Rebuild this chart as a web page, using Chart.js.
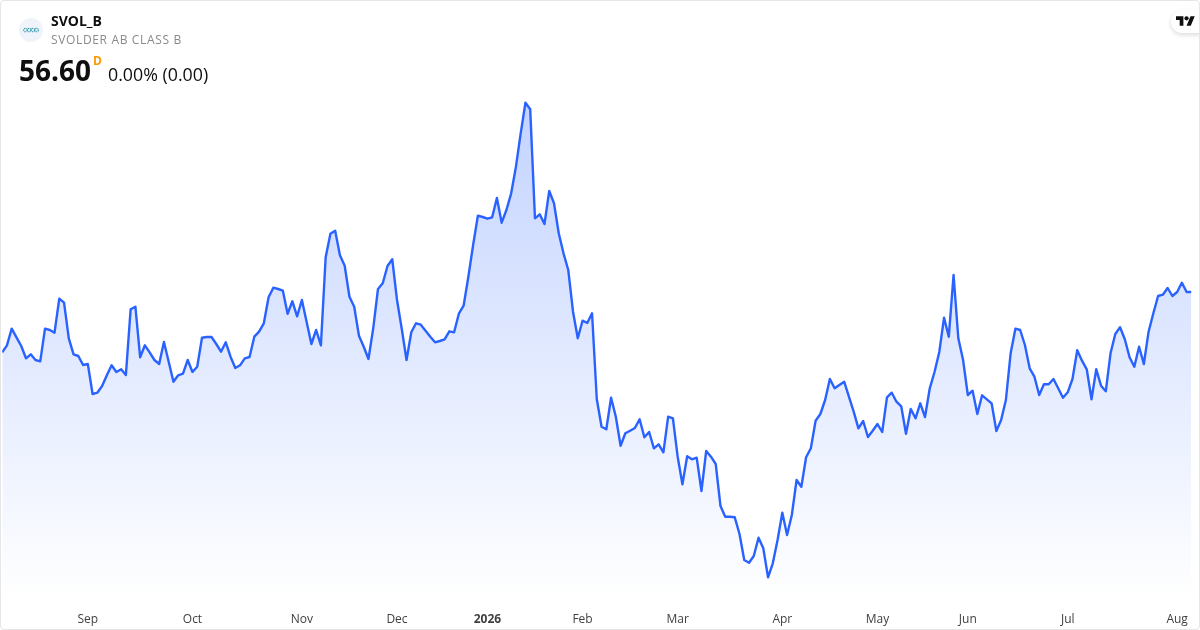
<!DOCTYPE html>
<html>
<head>
<meta charset="utf-8">
<script src="https://cdn.jsdelivr.net/npm/chart.js@4"></script>
<style>
  html, body { margin: 0; padding: 0; background: #fff; }
  #card { position: relative; width: 1200px; height: 630px; box-sizing: border-box; overflow: hidden;
    font-family: "Open Sans", sans-serif; color: #0f0f0f; }
  #card::after { content: ""; position: absolute; inset: 0; border: 1px solid #e6e6e6; border-radius: 4px; pointer-events: none; }
  canvas { position: absolute; left: 0; top: 0; }
  .txt { position: absolute; white-space: nowrap; line-height: 1; }
  #logo { position: absolute; left: 19px; top: 18px; }
  #tv { position: absolute; left: 1171px; top: 10px; width: 40px; height: 23px; border-radius: 12px; background: #fff;
    box-shadow: 0 2px 5px rgba(0,0,0,0.14); }
  #tv svg { position: absolute; left: 5px; top: 4px; }
</style>
</head>
<body>
<div id="card">
  <canvas id="chart" width="1200" height="630"></canvas>
  <svg id="logo" width="24" height="24" viewBox="0 0 24 24">
    <circle cx="12" cy="12" r="12" fill="#f0f3fa"/>
    <g fill="none" stroke="#2a9aa8" stroke-width="1.1" stroke-dasharray="1.4 0.7">
      <circle cx="6.5" cy="12" r="1.8"/><circle cx="10.2" cy="12" r="1.8"/><circle cx="13.9" cy="12" r="1.8"/><circle cx="17.6" cy="12" r="1.8"/>
    </g>
  </svg>
  <div class="txt" style="left:51px;top:14px;font-size:14px;font-weight:700">SVOL_B</div>
  <div class="txt" style="left:51px;top:34px;font-size:12px;color:#8a8a8a;letter-spacing:0.65px">SVOLDER AB CLASS B</div>
  <div class="txt" style="left:19px;top:56px;font-size:28px;font-weight:700">56.60</div>
  <div class="txt" style="left:93px;top:55px;font-size:12px;font-weight:700;color:#ff9800">D</div>
  <div class="txt" style="left:108px;top:66px;font-size:17.8px">0.00% (0.00)</div>
  <div id="tv">
    <svg width="19" height="15" viewBox="0 0 36 28"><path fill="#0f0f0f" d="M14 22H7V11H0V4h14v18zM28 22h-8l7.5-18h8L28 22z"/><circle fill="#0f0f0f" cx="20" cy="8" r="4"/></svg>
  </div>
</div>
<script>
// daily closes
const prices = [
  50.57, 51.27, 52.93, 52.07, 51.2, 49.97, 50.37, 49.8, 49.67, 52.93,
  52.8, 52.53, 55.93, 55.53, 51.97, 50.37, 50.2, 49.3, 49.4, 46.4,
  46.53, 47.2, 48.27, 49.27, 48.6, 48.87, 48.3, 54.87, 55.13, 50.07,
  51.27, 50.57, 49.8, 49.4, 51.6, 49.63, 47.63, 48.27, 48.43, 49.8,
  48.6, 49.13, 52.03, 52.1, 52.1, 51.4, 50.63, 51.57, 50.13, 49.0,
  49.27, 49.97, 50.1, 52.13, 52.63, 53.47, 56.07, 57.03, 56.9, 56.73,
  54.43, 55.67, 54.17, 55.8, 53.6, 51.4, 52.8, 51.27, 60.07, 62.43,
  62.73, 60.27, 59.23, 56.13, 55.13, 52.23, 51.13, 49.9, 52.97, 56.9,
  57.47, 59.2, 59.87, 55.8, 52.9, 49.8, 52.57, 53.47, 53.33, 52.73,
  52.13, 51.57, 51.7, 51.87, 52.67, 52.57, 54.43, 55.23, 58.13, 61.3,
  64.23, 64.1, 63.93, 64.07, 66.0, 63.53, 64.8, 66.47, 69.13, 72.47,
  75.53, 74.87, 63.97, 64.37, 63.4, 66.7, 65.47, 62.47, 60.47, 58.8,
  54.63, 51.97, 53.73, 53.5, 54.47, 45.87, 43.13, 42.87, 46.03, 44.13,
  41.23, 42.47, 42.73, 43.0, 43.87, 42.07, 42.6, 40.97, 41.37, 40.57,
  44.13, 43.97, 40.13, 37.37, 40.17, 39.87, 40.03, 36.7, 40.7, 40.13,
  39.4, 35.2, 34.13, 34.13, 34.07, 32.4, 29.8, 29.53, 30.2, 32.03,
  30.97, 28.07, 29.47, 31.8, 34.53, 32.3, 34.3, 37.8, 37.13, 40.07,
  40.97, 43.73, 44.4, 45.8, 47.9, 46.97, 47.3, 47.63, 46.13, 44.63,
  42.97, 43.7, 42.1, 42.73, 43.4, 42.6, 46.07, 46.53, 45.63, 45.17,
  42.43, 44.9, 43.97, 45.47, 44.1, 46.97, 48.6, 50.6, 54.03, 52.13,
  58.3, 51.97, 49.8, 46.3, 46.73, 44.4, 46.27, 45.87, 45.47, 42.7,
  43.8, 45.8, 50.47, 52.93, 52.8, 51.3, 48.97, 48.13, 46.3, 47.37,
  47.37, 47.9, 46.97, 46.03, 46.57, 47.9, 50.77, 49.73, 48.87, 45.87,
  48.87, 47.23, 46.67, 50.47, 52.4, 53.07, 51.87, 50.07, 49.13, 51.13,
  49.4, 52.63, 54.47, 56.2, 56.33, 57.0, 56.2, 56.6, 57.53, 56.6, 56.6
];
const tickIndex = [18, 40, 63, 83, 102, 122, 142, 164, 184, 203, 224, 247];
const tickLabels = ['Sep', 'Oct', 'Nov', 'Dec', '2026', 'Feb', 'Mar', 'Apr', 'May', 'Jun', 'Jul', 'Aug'];

new Chart(document.getElementById('chart'), {
  type: 'line',
  data: {
    datasets: [{
      data: prices.map((p, i) => ({ x: i, y: p })),
      borderColor: '#2962ff',
      borderWidth: 2.4,
      borderJoinStyle: 'round',
      pointRadius: 0,
      tension: 0,
      fill: 'start',
      backgroundColor: (ctx) => {
        const { chart } = ctx;
        if (!chart.chartArea) return 'transparent';
        const top = chart.scales.y.getPixelForValue(Math.max(...prices));
        const g = chart.ctx.createLinearGradient(0, top, 0, chart.chartArea.bottom);
        g.addColorStop(0, 'rgba(41,98,255,0.28)');
        g.addColorStop(1, 'rgba(41,98,255,0)');
        return g;
      }
    }]
  },
  options: {
    responsive: false,
    animation: false,
    layout: { padding: { left: 2.2, right: 8.6, top: 0, bottom: 0 } },
    plugins: { legend: { display: false }, tooltip: { enabled: false } },
    scales: {
      x: {
        type: 'linear',
        min: 0,
        max: prices.length - 1,
        grid: { display: false },
        border: { display: false },
        afterBuildTicks: (scale) => { scale.ticks = tickIndex.map(v => ({ value: v })); },
        afterFit: (scale) => { scale.height = 30; },
        ticks: {
          autoSkip: false,
          maxRotation: 0,
          padding: 4,
          color: '#3f3f3f',
          font: (ctx) => ({
            family: '"Open Sans", sans-serif',
            size: 12,
            weight: ctx.tick && ctx.tick.value === 102 ? '700' : '400'
          }),
          callback: (v) => tickLabels[tickIndex.indexOf(v)]
        }
      },
      y: { display: false, min: 25.8, max: 85.8 }
    }
  }
});
</script>
</body>
</html>
